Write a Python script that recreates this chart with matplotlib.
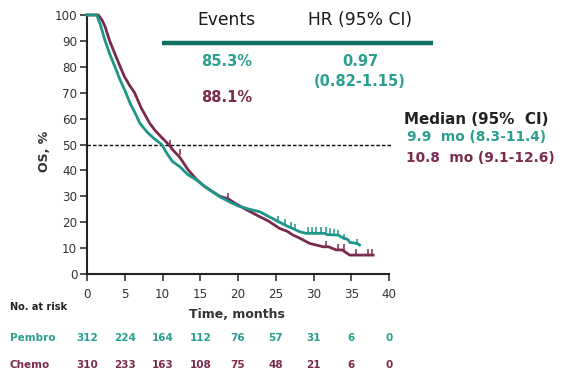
import matplotlib
matplotlib.use("Agg")
import matplotlib.pyplot as plt
from matplotlib.path import Path

TEAL = "#1d968a"
TEAL_TEXT = "#2a9f90"
TEAL_DARK = "#0f6f62"
MAROON = "#7a2b4d"
INK = "#333333"

# Kaplan-Meier estimates (months, OS %)
pembro_t = [0, 1.3, 1.8, 2.4, 3.0, 3.7, 4.3, 5.0, 5.7, 6.4, 7.0, 7.9, 8.8, 9.9, 10.6,
            11.3, 12.3, 13.3, 14.5, 15.5, 16.5, 17.6, 18.9, 20.0, 21.5, 22.9, 24.0,
            25.5, 26.5, 27.3, 28.2, 29.0, 31.5, 31.8, 33.3, 33.6, 34.6, 34.8, 35.8, 36.1]
pembro_s = [100, 100, 96, 90, 85, 80, 75.5, 71, 66, 62, 58.2, 55, 52.5, 50, 46.5,
            43.5, 41.4, 38.5, 36.3, 34, 32, 29.8, 27.8, 26.3, 25, 24, 22.3,
            20, 18.5, 17.5, 16.3, 15.7, 15.7, 15.2, 15.0, 14.4, 13.2, 12.2, 11.8, 11.2]

chemo_t = [0, 1.5, 2.0, 2.4, 3.0, 3.7, 4.4, 5.0, 5.6, 6.3, 7.2, 8.3, 9.0, 9.8, 10.8,
           11.5, 12.3, 13.4, 14.5, 15.5, 16.5, 17.6, 18.7, 19.5, 21.0, 22.9, 24.0,
           25.5, 26.5, 27.3, 28.2, 29.5, 31.3, 32.0, 33.0, 33.8, 34.8, 37.9]
chemo_s = [100, 100, 98, 95.5, 90, 85, 80, 76, 73, 70, 64, 58.2, 55.5, 53, 50,
           47.5, 45, 40.2, 36.5, 34, 32, 30, 29, 27.5, 25, 22.1, 20.5,
           17.6, 16.5, 15, 13.8, 11.8, 10.5, 10.5, 9.3, 9.3, 7.3, 7.3]

# censored observations
pembro_cens_t = [25.3, 26.2, 27.0, 27.6, 29.3, 29.8, 30.3, 31.0, 31.6, 32.2, 32.7, 33.2, 34.0, 35.8]
pembro_cens_s = [20, 19, 17.8, 17, 15.7, 15.7, 15.7, 15.7, 15.7, 15.3, 15, 14.6, 13.2, 11.2]
chemo_cens_t = [11.0, 12.3, 18.7, 31.6, 33.3, 34.0, 35.6, 37.2, 37.7]
chemo_cens_s = [49.5, 46, 29, 10.5, 9.3, 9.3, 7.3, 7.3, 7.3]

risk_times = [0, 5, 10, 15, 20, 25, 30, 35, 40]
pembro_risk = [312, 224, 164, 112, 76, 57, 31, 6, 0]
chemo_risk = [310, 233, 163, 108, 75, 48, 21, 6, 0]

events = ["85.3%", "88.1%"]
hr_text = ["0.97", "(0.82-1.15)"]
median_text = ["9.9  mo (8.3-11.4)", "10.8  mo (9.1-12.6)"]

W, H = 564, 374


def fx(x):
    return x / W


def fy(y):
    return 1 - y / H


fig = plt.figure(figsize=(W / 100, H / 100), dpi=100)
ax = fig.add_axes([fx(87), fy(274), fx(389) - fx(87), fy(15) - fy(274)])

tick_up = Path([(0, 0), (0, 1)])

ax.plot(chemo_t, chemo_s, color=MAROON, lw=2.0, clip_on=False, zorder=3)
ax.plot(pembro_t, pembro_s, color=TEAL, lw=2.0, clip_on=False, zorder=4)
ax.plot(chemo_cens_t, chemo_cens_s, ls="none", marker=tick_up, ms=9, mew=1.1,
        color=MAROON, clip_on=False, zorder=3)
ax.plot(pembro_cens_t, pembro_cens_s, ls="none", marker=tick_up, ms=9, mew=1.1,
        color=TEAL, clip_on=False, zorder=4)

ax.plot([0, 40.3], [50, 50], color="black", lw=1.0, dashes=(2.5, 1.5), clip_on=False, zorder=2)

ax.set_xlim(0, 40)
ax.set_ylim(0, 100)
ax.set_xticks(risk_times)
ax.set_yticks(range(0, 101, 10))
for side in ("top", "right"):
    ax.spines[side].set_visible(False)
for side in ("left", "bottom"):
    ax.spines[side].set_linewidth(1.5)
    ax.spines[side].set_color("#222222")
ax.tick_params(axis="both", direction="out", length=5, width=1.1, color="#222222",
               labelsize=8.6, labelcolor=INK)
ax.tick_params(axis="x", pad=5)
ax.tick_params(axis="y", pad=2)

fig.text(fx(44), fy(151), "OS, %", rotation=90, ha="center", va="center",
         fontsize=9, fontweight="bold", color=INK)

# events / HR table
fig.text(fx(226), fy(20), "Events", ha="center", va="center", fontsize=12.3, color="#1a1a1a")
fig.text(fx(360), fy(20), "HR (95% CI)", ha="center", va="center", fontsize=12.3, color="#1a1a1a")
fig.add_artist(plt.Line2D([fx(162), fx(433)], [fy(43), fy(43)], color=TEAL_DARK, lw=3.2,
                          solid_capstyle="butt"))
fig.text(fx(227), fy(61), events[0], ha="center", va="center", fontsize=10.5,
         fontweight="bold", color=TEAL_TEXT)
fig.text(fx(227), fy(97), events[1], ha="center", va="center", fontsize=10.5,
         fontweight="bold", color=MAROON)
fig.text(fx(360), fy(61), hr_text[0], ha="center", va="center", fontsize=10.5,
         fontweight="bold", color=TEAL_TEXT)
fig.text(fx(360), fy(81), hr_text[1], ha="center", va="center", fontsize=10.5,
         fontweight="bold", color=TEAL_TEXT)

# medians
fig.text(fx(404), fy(120), "Median (95%  CI)", ha="left", va="center", fontsize=10.9,
         fontweight="bold", color="#222222")
fig.text(fx(407), fy(137), median_text[0], ha="left", va="center", fontsize=9.9,
         fontweight="bold", color=TEAL_TEXT)
fig.text(fx(406), fy(158), median_text[1], ha="left", va="center", fontsize=9.9,
         fontweight="bold", color=MAROON)

# numbers at risk
fig.text(fx(237), fy(314), "Time, months", ha="center", va="center", fontsize=9,
         fontweight="bold", color=INK)
fig.text(fx(10), fy(307), "No. at risk", ha="left", va="center", fontsize=7,
         fontweight="bold", color="#222222")
fig.text(fx(10), fy(338), "Pembro", ha="left", va="center", fontsize=7.5,
         fontweight="bold", color=TEAL_TEXT)
fig.text(fx(10), fy(365), "Chemo", ha="left", va="center", fontsize=7.5,
         fontweight="bold", color=MAROON)
for t, p, c in zip(risk_times, pembro_risk, chemo_risk):
    px = 87 + t * (389 - 87) / 40
    fig.text(fx(px), fy(338), str(p), ha="center", va="center", fontsize=7.5,
             fontweight="bold", color=TEAL_TEXT)
    fig.text(fx(px), fy(365), str(c), ha="center", va="center", fontsize=7.5,
             fontweight="bold", color=MAROON)

fig.savefig("out.png", dpi=100, facecolor="white")
